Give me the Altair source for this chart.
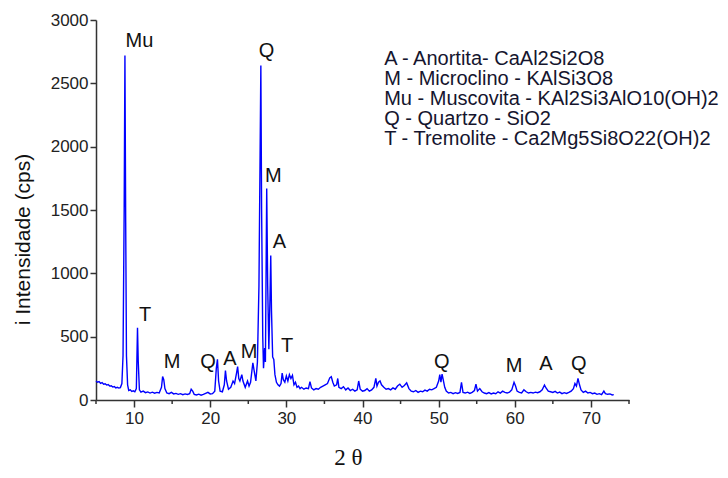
import altair as alt
import pandas as pd

# ---- XRD pattern (2θ in degrees, intensity in cps) ----
two_theta = [
    5.0, 5.2, 5.4, 5.6, 5.8, 6.0, 6.2, 6.4, 6.6, 6.8, 7.0, 7.2, 7.4, 7.6, 7.8, 8.0, 8.2,
    8.4, 8.55, 8.7, 8.8, 8.9, 9.0, 9.15, 9.3, 9.5, 9.7, 9.9, 10.1, 10.3, 10.45, 10.55,
    10.7, 10.9, 11.2, 11.5, 11.8, 12.1, 12.4, 12.7, 13.0, 13.3, 13.6, 13.75, 13.9, 14.05,
    14.3, 14.6, 14.9, 15.2, 15.5, 15.8, 16.1, 16.4, 16.7, 17.0, 17.3, 17.5, 17.7, 17.9,
    18.2, 18.5, 18.8, 19.1, 19.4, 19.7, 20.0, 20.3, 20.6, 20.8, 20.95, 21.1, 21.3, 21.6,
    21.85, 22.0, 22.15, 22.4, 22.7, 23.0, 23.2, 23.45, 23.6, 23.75, 23.9, 24.15, 24.3,
    24.6, 24.9, 25.1, 25.3, 25.6, 25.8, 26.0, 26.2, 26.4, 26.55, 26.65, 26.75, 26.9, 27.0,
    27.15, 27.25, 27.42, 27.55, 27.7, 27.85, 27.95, 28.05, 28.2, 28.35, 28.5, 28.7, 28.9,
    29.1, 29.3, 29.45, 29.6, 29.8, 30.0, 30.2, 30.4, 30.6, 30.8, 31.0, 31.2, 31.4, 31.6,
    31.8, 32.0, 32.3, 32.6, 32.9, 33.1, 33.3, 33.6, 33.9, 34.2, 34.5, 34.8, 35.1, 35.4,
    35.7, 35.9, 36.1, 36.3, 36.6, 36.75, 36.9, 37.2, 37.5, 37.8, 38.1, 38.4, 38.7, 39.0,
    39.3, 39.5, 39.7, 40.0, 40.3, 40.6, 40.9, 41.2, 41.5, 41.75, 41.9, 42.1, 42.3, 42.5,
    42.8, 43.1, 43.4, 43.7, 44.0, 44.3, 44.6, 44.9, 45.2, 45.5, 45.8, 46.1, 46.4, 46.7,
    47.0, 47.3, 47.6, 47.9, 48.2, 48.5, 48.8, 49.1, 49.4, 49.7, 50.0, 50.15, 50.3, 50.45,
    50.6, 50.8, 51.0, 51.3, 51.6, 51.9, 52.2, 52.5, 52.8, 53.0, 53.2, 53.5, 53.8, 54.1,
    54.4, 54.7, 54.9, 55.1, 55.4, 55.7, 56.0, 56.3, 56.6, 56.9, 57.2, 57.5, 57.8, 58.1,
    58.4, 58.7, 59.0, 59.3, 59.6, 59.9, 60.1, 60.3, 60.6, 60.9, 61.2, 61.5, 61.8, 62.1,
    62.4, 62.7, 63.0, 63.3, 63.6, 63.9, 64.1, 64.4, 64.7, 65.0, 65.3, 65.6, 65.9, 66.2,
    66.5, 66.8, 67.1, 67.4, 67.7, 67.9, 68.1, 68.3, 68.5, 68.7, 69.0, 69.3, 69.6, 69.9,
    70.2, 70.5, 70.8, 71.1, 71.4, 71.7, 71.9, 72.2, 72.5, 72.8, 73.0,
]
intensity = [
    150, 140, 145, 132, 138, 125, 128, 118, 122, 110, 112, 102, 106, 96, 100, 94, 98,
    130, 350, 1500, 2720, 1400, 350, 120, 75, 80, 68, 72, 65, 90, 570, 300,
    80, 62, 70, 58, 64, 55, 62, 54, 60, 56, 100, 185, 160, 90,
    55, 50, 60, 48, 52, 45, 50, 42, 48, 44, 50, 85, 70, 45,
    40, 46, 38, 44, 52, 60, 48, 50, 70, 250, 322, 150, 70, 65,
    120, 232, 150, 85, 100, 150, 130, 210, 263, 170, 150, 200, 150,
    100, 150, 110, 140, 294, 220, 150, 300, 900, 1930, 2640, 1500, 500, 250,
    410, 300, 1670, 900, 400, 800, 1140, 700, 340, 320, 200, 140, 120,
    110, 130, 213, 160, 140, 190, 150, 200, 170, 195, 120, 140, 100, 110,
    90, 100, 85, 95, 90, 145, 95, 80, 90, 85, 100, 110, 120, 130,
    175, 184, 140, 110, 120, 170, 100, 90, 105, 80, 95, 75, 85, 70,
    80, 150, 85, 70, 75, 90, 70, 80, 100, 170, 110, 140, 150, 120,
    100, 85, 90, 80, 95, 85, 110, 125, 100, 115, 135, 90, 70, 65,
    75, 60, 70, 65, 78, 70, 85, 80, 90, 100, 150, 200, 140, 205,
    160, 100, 70, 55, 60, 50, 58, 52, 60, 140, 60, 55, 62, 52,
    60, 75, 125, 70, 90, 65, 55, 50, 58, 48, 55, 50, 65, 55,
    70, 60, 55, 62, 80, 140, 110, 70, 60, 55, 80, 65, 55, 60,
    55, 62, 58, 65, 80, 118, 95, 70, 65, 60, 68, 55, 62, 50,
    58, 52, 60, 70, 90, 130, 110, 170, 120, 80, 60, 70, 55, 60,
    50, 55, 45, 50, 42, 70, 50, 45, 48, 40, 42,
]

# ---- peak labels ----
peak_labels = ["Mu", "T", "M", "Q", "A", "M", "Q", "M", "A", "T", "Q", "M", "A", "Q"]
peak_label_x = [10.7, 11.45, 15.0, 19.7, 22.6, 25.1, 27.4, 28.3, 29.1, 30.1, 50.4, 59.9, 64.1, 68.4]
peak_label_y = [2790, 620, 255, 255, 280, 335, 2710, 1720, 1200, 380, 255, 220, 235, 240]

# ---- phase key ----
key_lines = [
    "A - Anortita- CaAl2Si2O8",
    "M - Microclino - KAlSi3O8",
    "Mu - Muscovita - KAl2Si3AlO10(OH)2",
    "Q - Quartzo - SiO2",
    "T - Tremolite - Ca2Mg5Si8O22(OH)2",
]

# ---- axis tick positions ----
x_major = [10, 20, 30, 40, 50, 60, 70]
x_minor = [5, 15, 25, 35, 45, 55, 65, 75]

df = pd.DataFrame({"t": two_theta, "i": intensity})
labels_df = pd.DataFrame({"t": peak_label_x, "i": peak_label_y, "lab": peak_labels})
key_df = pd.DataFrame({
    "t": [42.85] * len(key_lines),
    "i": [2645 - 158 * k for k in range(len(key_lines))],
    "lab": key_lines,
})
minor_df = pd.DataFrame({"t": x_minor})

xscale = alt.Scale(domain=[5, 75], nice=False, zero=False)
yscale = alt.Scale(domain=[0, 3000], nice=False)

axis_color = "#333333"
x_axis = alt.Axis(
    values=x_major,
    labelOverlap=False,
    tickSize=7,
    tickColor=axis_color, tickWidth=1.5, domainColor=axis_color, domainWidth=1.5,
    labelFont="Liberation Sans", labelFontSize=17, labelColor="#222222", labelPadding=3,
    title="2 θ", titleFont="Liberation Serif", titleFontSize=23, titleFontWeight="normal",
    titleColor="#111111", titleX=252, titleY=69, titleAlign="center", titleBaseline="bottom",
    grid=False, labelFlush=False,
)
y_axis = alt.Axis(
    values=list(range(0, 3001, 250)),
    labelExpr="datum.value % 500 == 0 ? datum.label : ''",
    labelOverlap=False,
    format="d",
    tickSize={"condition": {"test": "datum.value % 500 == 0", "value": 6}, "value": 4},
    tickColor=axis_color, tickWidth=1.5, domainColor=axis_color, domainWidth=1.5,
    labelFont="Liberation Sans", labelFontSize=17, labelColor="#222222", labelPadding=2,
    title="i  Intensidade  (cps)", titleFont="Liberation Sans", titleFontSize=21,
    titleFontWeight="normal", titleColor="#111111", titleX=-73, titleY=219,
    titleAlign="center", titleBaseline="middle", titleAngle=-90,
    grid=False, labelFlush=False,
)

line = alt.Chart(df).mark_line(color="#0000ff", strokeWidth=1.4).encode(
    x=alt.X("t:Q", scale=xscale, axis=x_axis),
    y=alt.Y("i:Q", scale=yscale, axis=y_axis),
)

minor_ticks = alt.Chart(minor_df).mark_rule(color=axis_color, strokeWidth=1.5).encode(
    x=alt.X("t:Q", scale=xscale),
    y=alt.value(380),
    y2=alt.value(384),
)

peak_text = alt.Chart(labels_df).mark_text(
    font="Liberation Sans", fontSize=20, color="#111111", align="center", baseline="alphabetic"
).encode(x=alt.X("t:Q", scale=xscale), y=alt.Y("i:Q", scale=yscale), text="lab:N")

key_text = alt.Chart(key_df).mark_text(
    font="Liberation Sans", fontSize=20, color="#15152e", align="left", baseline="alphabetic"
).encode(x=alt.X("t:Q", scale=xscale), y=alt.Y("i:Q", scale=yscale), text="lab:N")

chart = alt.layer(line, minor_ticks, peak_text, key_text).properties(
    width=533, height=380,
    autosize=alt.AutoSizeParams(type="none"),
    padding={"left": 88, "top": 12, "right": 91, "bottom": 70},
    background="white",
).configure_view(stroke=None)

chart.save("out.html", embed_options={"renderer": "svg", "actions": False})
